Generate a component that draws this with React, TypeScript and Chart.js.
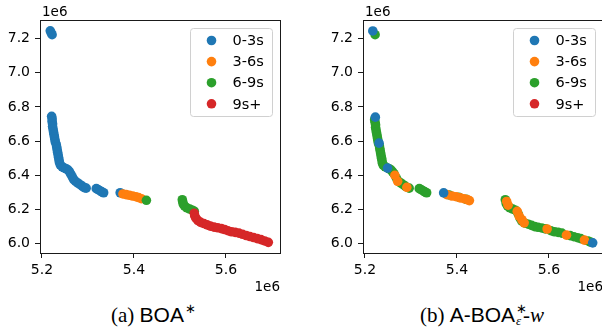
import React, { useEffect, useRef } from "react";
import { Chart, registerables } from "chart.js";

Chart.register(...registerables);

// ---- data (values in units of 1e6) ----
const SERIES_LABELS = ["0-3s", "3-6s", "6-9s", "9s+"];
const SERIES_COLORS = ["#1f77b4", "#ff7f0e", "#2ca02c", "#d62728"];
const X_TICKS = [5.2, 5.4, 5.6];
const Y_TICKS = [6.0, 6.2, 6.4, 6.6, 6.8, 7.0, 7.2];
const OFFSET_LABEL = "1e6";
const X_LIMITS = [5.1957, 5.7174];
const Y_LIMITS = [5.9457, 7.308];

type P = [number, number];

// (a) BOA*
const boaBlue: P[] = [
  [5.218, 7.245], [5.220, 7.233], [5.222, 7.222],
  [5.221, 6.745], [5.222, 6.73], [5.222, 6.715], [5.223, 6.70], [5.223, 6.685],
  [5.224, 6.67], [5.225, 6.655], [5.226, 6.64], [5.227, 6.625], [5.228, 6.61],
  [5.229, 6.595], [5.231, 6.58], [5.232, 6.565], [5.233, 6.55], [5.234, 6.535],
  [5.235, 6.52], [5.236, 6.505], [5.237, 6.49], [5.238, 6.475], [5.240, 6.46],
  [5.244, 6.45], [5.248, 6.443], [5.253, 6.438], [5.257, 6.43], [5.260, 6.42],
  [5.263, 6.405], [5.266, 6.39], [5.269, 6.375], [5.273, 6.365], [5.278, 6.355],
  [5.283, 6.345], [5.288, 6.335], [5.292, 6.328], [5.296, 6.325],
  [5.318, 6.322], [5.322, 6.316], [5.326, 6.31], [5.330, 6.303], [5.334, 6.298],
  [5.370, 6.298],
];
const boaOrange: P[] = [
  [5.376, 6.291], [5.383, 6.287], [5.390, 6.283], [5.397, 6.279],
  [5.404, 6.275], [5.410, 6.27], [5.416, 6.263],
];
const boaGreen: P[] = [
  [5.427, 6.254],
  [5.505, 6.257], [5.506, 6.245], [5.507, 6.232], [5.510, 6.22],
  [5.515, 6.21], [5.521, 6.203], [5.527, 6.196], [5.531, 6.19],
];
const boaRed: P[] = [
  [5.531, 6.178], [5.532, 6.163], [5.535, 6.148], [5.539, 6.135], [5.545, 6.125],
  [5.552, 6.118], [5.559, 6.11], [5.566, 6.103], [5.574, 6.097], [5.582, 6.093],
  [5.590, 6.088], [5.597, 6.083], [5.604, 6.076], [5.612, 6.07], [5.620, 6.066],
  [5.628, 6.062], [5.636, 6.055], [5.644, 6.048], [5.652, 6.042], [5.660, 6.036],
  [5.668, 6.03], [5.676, 6.024], [5.684, 6.016], [5.692, 6.008],
];

// (b) A-BOA*_eps-w
const aboaBlue: P[] = [
  [5.217, 7.244], [5.2225, 6.74], [5.2306, 6.588], [5.249, 6.442],
  [5.371, 6.297], [5.695, 6.005],
];
const aboaOrange: P[] = [
  [5.265, 6.40], [5.271, 6.365], [5.291, 6.33],
  [5.378, 6.287], [5.389, 6.279], [5.398, 6.275], [5.407, 6.268], [5.415, 6.263],
  [5.422, 6.258], [5.427, 6.252],
  [5.508, 6.247], [5.511, 6.225], [5.531, 6.189], [5.535, 6.162], [5.541, 6.14],
  [5.546, 6.122], [5.596, 6.086], [5.638, 6.05], [5.677, 6.021],
];
const aboaGreen: P[] = [
  [5.222, 7.222],
  [5.221, 6.725], [5.222, 6.71], [5.223, 6.695], [5.223, 6.68], [5.224, 6.665],
  [5.225, 6.65], [5.226, 6.635], [5.227, 6.62], [5.228, 6.605], [5.229, 6.59],
  [5.231, 6.575], [5.232, 6.56], [5.233, 6.545], [5.234, 6.53], [5.235, 6.515],
  [5.236, 6.50], [5.237, 6.485], [5.238, 6.47], [5.240, 6.458], [5.244, 6.45],
  [5.253, 6.438], [5.257, 6.43], [5.260, 6.42], [5.263, 6.41], [5.268, 6.385],
  [5.273, 6.365], [5.278, 6.355], [5.283, 6.345], [5.288, 6.335], [5.296, 6.325],
  [5.318, 6.322], [5.322, 6.316], [5.326, 6.31], [5.330, 6.303], [5.334, 6.298],
  [5.383, 6.285], [5.404, 6.272], [5.420, 6.26],
  [5.505, 6.257], [5.507, 6.235], [5.510, 6.22], [5.515, 6.21], [5.521, 6.203],
  [5.527, 6.196], [5.533, 6.175], [5.537, 6.15], [5.541, 6.132], [5.548, 6.12],
  [5.555, 6.114], [5.562, 6.107], [5.569, 6.10], [5.576, 6.096], [5.584, 6.092],
  [5.592, 6.087], [5.604, 6.076], [5.612, 6.07], [5.620, 6.066], [5.628, 6.062],
  [5.646, 6.047], [5.654, 6.041], [5.662, 6.035], [5.669, 6.03], [5.685, 6.016],
  [5.690, 6.01],
];
const aboaRed: P[] = [];

const FONT = "'DejaVu Sans', sans-serif";

const framePlugin = {
  id: "mplFrame",
  afterDraw(chart: any) {
    const { ctx, chartArea: a } = chart;
    ctx.save();
    // spines
    ctx.strokeStyle = "#1a1a1a";
    ctx.lineWidth = 1;
    ctx.strokeRect(Math.round(a.left) + 0.5, Math.round(a.top) + 0.5,
      Math.round(a.right - a.left), Math.round(a.bottom - a.top));
    // offset texts
    ctx.fillStyle = "#000";
    ctx.font = `13.5px ${FONT}`;
    ctx.textBaseline = "alphabetic";
    ctx.textAlign = "left";
    ctx.fillText(OFFSET_LABEL, a.left + 2, a.top - 4);
    ctx.textAlign = "right";
    ctx.fillText(OFFSET_LABEL, a.right, a.bottom + 38);
    // legend
    const x0 = a.left + 150.5, y0 = a.top + 8.5, w = 82, h = 88, r = 3;
    ctx.beginPath();
    ctx.moveTo(x0 + r, y0);
    ctx.lineTo(x0 + w - r, y0);
    ctx.arcTo(x0 + w, y0, x0 + w, y0 + r, r);
    ctx.lineTo(x0 + w, y0 + h - r);
    ctx.arcTo(x0 + w, y0 + h, x0 + w - r, y0 + h, r);
    ctx.lineTo(x0 + r, y0 + h);
    ctx.arcTo(x0, y0 + h, x0, y0 + h - r, r);
    ctx.lineTo(x0, y0 + r);
    ctx.arcTo(x0, y0, x0 + r, y0, r);
    ctx.closePath();
    ctx.fillStyle = "rgba(255,255,255,0.8)";
    ctx.fill();
    ctx.strokeStyle = "#d0d0d0";
    ctx.stroke();
    ctx.font = `14.5px ${FONT}`;
    ctx.textAlign = "left";
    ctx.textBaseline = "middle";
    SERIES_LABELS.forEach((lab, i) => {
      const cy = y0 + 12 + i * 21.1;
      ctx.beginPath();
      ctx.arc(x0 + 21, cy, 4.8, 0, Math.PI * 2);
      ctx.fillStyle = SERIES_COLORS[i];
      ctx.fill();
      ctx.fillStyle = "#000";
      ctx.fillText(lab, x0 + 42, cy + 1);
    });
    ctx.restore();
  },
};

function ScatterPanel({ series, order }: { series: P[][]; order: number[] }) {
  const ref = useRef<HTMLCanvasElement | null>(null);
  useEffect(() => {
    if (!ref.current) return;
    const chart = new Chart(ref.current, {
      type: "scatter",
      data: {
        datasets: series.map((pts, i) => ({
          label: SERIES_LABELS[i],
          data: pts.map(([x, y]) => ({ x, y })),
          backgroundColor: SERIES_COLORS[i],
          borderWidth: 0,
          pointRadius: 4.8,
          order: order[i],
        })),
      },
      options: {
        responsive: false,
        animation: false,
        devicePixelRatio: 1,
        layout: { padding: { left: 0, top: 20, right: 20, bottom: 0 } },
        plugins: { legend: { display: false }, tooltip: { enabled: false } },
        scales: {
          x: {
            type: "linear",
            min: X_LIMITS[0],
            max: X_LIMITS[1],
            afterBuildTicks: (s: any) => {
              s.ticks = X_TICKS.map((v) => ({ value: v }));
            },
            afterFit: (s: any) => {
              s.height = 47;
            },
            ticks: {
              color: "#000",
              font: { family: FONT, size: 14 },
              padding: 4,
              maxRotation: 0,
              autoSkip: false,
              callback: (v: any) => Number(v).toFixed(1),
            },
            grid: {
              display: true,
              drawOnChartArea: false,
              drawTicks: true,
              tickLength: 5,
              tickColor: "#1a1a1a",
            },
            border: { display: false },
          },
          y: {
            type: "linear",
            min: Y_LIMITS[0],
            max: Y_LIMITS[1],
            afterBuildTicks: (s: any) => {
              s.ticks = Y_TICKS.map((v) => ({ value: v }));
            },
            afterFit: (s: any) => {
              s.width = 40;
            },
            ticks: {
              color: "#000",
              font: { family: FONT, size: 14 },
              padding: 5,
              autoSkip: false,
              callback: (v: any) => Number(v).toFixed(1),
            },
            grid: {
              display: true,
              drawOnChartArea: false,
              drawTicks: true,
              tickLength: 5,
              tickColor: "#1a1a1a",
            },
            border: { display: false },
          },
        },
      },
      plugins: [framePlugin],
    } as any);
    return () => chart.destroy();
  }, [series, order]);
  return <canvas ref={ref} width={300} height={300} style={{ width: 300, height: 300, display: "block" }} />;
}

const serif = "'Liberation Serif', 'Times New Roman', serif";
const sans = "'Liberation Sans', Arial, sans-serif";

const captionStyle: React.CSSProperties = {
  position: "absolute",
  width: 300,
  top: 302,
  textAlign: "center",
  fontSize: 21,
  lineHeight: "26px",
  color: "#000",
  whiteSpace: "nowrap",
};

function Scripts({ sup, sub, width }: { sup: string; sub?: string; width: number }) {
  return (
    <span style={{ position: "relative", display: "inline-block", width, height: 10 }}>
      <span style={{ position: "absolute", left: 1, top: -10, fontFamily: serif, fontSize: 13, lineHeight: "13px" }}>{sup}</span>
      {sub ? (
        <span style={{ position: "absolute", left: 1, top: 2, fontFamily: serif, fontSize: 13, lineHeight: "13px", fontStyle: "italic" }}>{sub}</span>
      ) : null}
    </span>
  );
}

export default function App() {
  return (
    <div
      style={{
        position: "absolute",
        left: 0,
        top: 0,
        width: 602,
        height: 332,
        overflow: "hidden",
        background: "#fff",
      }}
    >
      <div style={{ position: "absolute", left: 0, top: 0 }}>
        <ScatterPanel series={[boaBlue, boaOrange, boaGreen, boaRed]} order={[3, 2, 1, 0]} />
      </div>
      <div style={{ position: "absolute", left: 323, top: 0 }}>
        <ScatterPanel series={[aboaBlue, aboaOrange, aboaGreen, aboaRed]} order={[0, 1, 2, 3]} />
      </div>
      <div style={{ ...captionStyle, left: 2 }}>
        <span style={{ fontFamily: serif }}>(a) </span>
        <span style={{ fontFamily: sans }}>BOA</span>
        <Scripts sup="∗" width={9} />
      </div>
      <div style={{ ...captionStyle, left: 332 }}>
        <span style={{ fontFamily: serif }}>(b) </span>
        <span style={{ fontFamily: sans }}>A-BOA</span>
        <Scripts sup="∗" sub="ε" width={8} />
        <span style={{ fontFamily: serif }}>-</span>
        <span style={{ fontFamily: serif, fontStyle: "italic" }}>w</span>
      </div>
    </div>
  );
}
